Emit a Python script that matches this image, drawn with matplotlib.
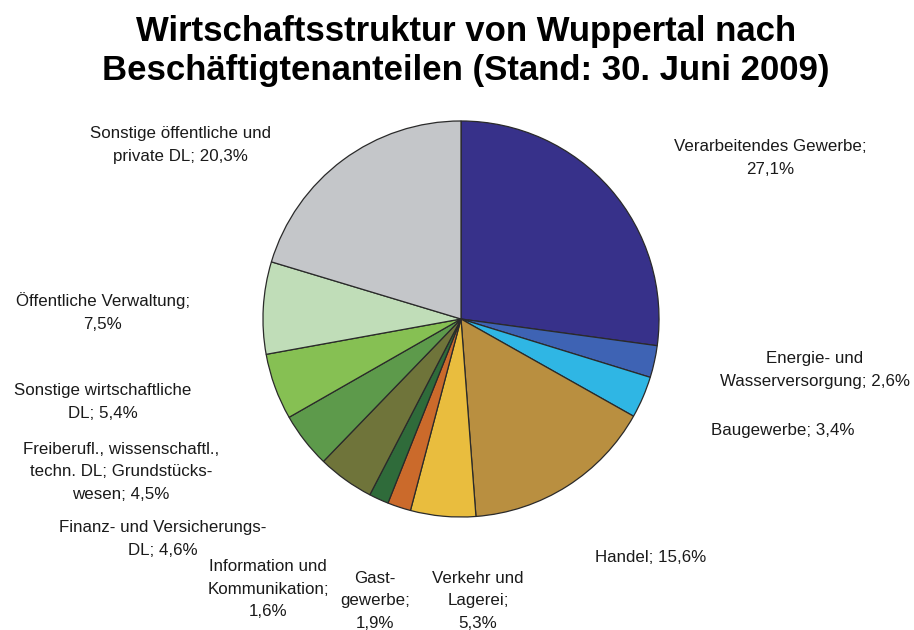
import matplotlib
matplotlib.use("Agg")
import matplotlib.pyplot as plt

plt.rcParams['font.family'] = ['Liberation Sans', 'DejaVu Sans']

# Branches, clockwise from 12 o'clock
sectors = [
    "Verarbeitendes Gewerbe",
    "Energie- und\nWasserversorgung",
    "Baugewerbe",
    "Handel",
    "Verkehr und\nLagerei",
    "Gast-\ngewerbe",
    "Information und\nKommunikation",
    "Finanz- und Versicherungs-\nDL",
    "Freiberufl., wissenschaftl.,\ntechn. DL; Grundstücks-\nwesen",
    "Sonstige wirtschaftliche\nDL",
    "Öffentliche Verwaltung",
    "Sonstige öffentliche und\nprivate DL",
]
shares = [27.1, 2.6, 3.4, 15.6, 5.3, 1.9, 1.6, 4.6, 4.5, 5.4, 7.5, 20.3]
colors = ["#37318a", "#3e63b4", "#2fb6e4", "#b98f40", "#e9bd3e", "#cb6a2b",
          "#2f6b3a", "#6f743a", "#5d9a4b", "#86c053", "#c0ddb8", "#c4c6c9"]

# label text joins ("; " or newline before the value)
seps = [";\n", "; ", "; ", "; ", ";\n", ";\n", ";\n", "; ", "; ", "; ", ";\n", "; "]
# label centres in pixels (x, y from top)
label_pos = [(770, 158), (815, 370), (783, 431), (651, 557), (478, 601),
             (375, 601), (268, 589), (163, 539), (121, 472), (103, 402),
             (103, 312), (180, 145)]

W, H = 914, 630
fig = plt.figure(figsize=(W / 100, H / 100), dpi=100)

cx, cy, r = 461, 319, 200
ax = fig.add_axes([(cx - r) / W, (H - cy - r) / H, 2 * r / W, 2 * r / H])
ax.pie(shares, colors=colors, startangle=90, counterclock=False,
       wedgeprops=dict(edgecolor="#2a2a2a", linewidth=0.9))
ax.set_xlim(-1.01, 1.01)
ax.set_ylim(-1.01, 1.01)
ax.axis("off")

for name, val, sep, (px, py) in zip(sectors, shares, seps, label_pos):
    txt = f"{name}{sep}{val:.1f}%".replace(".", ",")
    # restore dots in abbreviations
    txt = txt.replace("Freiberufl,", "Freiberufl.").replace("wissenschaftl,", "wissenschaftl.")
    txt = txt.replace("techn,", "techn.")
    fig.text(px / W, 1 - py / H, txt, ha="center", va="center",
             fontsize=12.2, color="#1a1a1a", linespacing=1.62)

fig.text(466 / W, 1 - 51 / H,
         "Wirtschaftsstruktur von Wuppertal nach\nBeschäftigtenanteilen (Stand: 30. Juni 2009)",
         ha="center", va="center", fontsize=25, fontweight="bold", linespacing=1.2)

fig.savefig("out.png", dpi=100)
